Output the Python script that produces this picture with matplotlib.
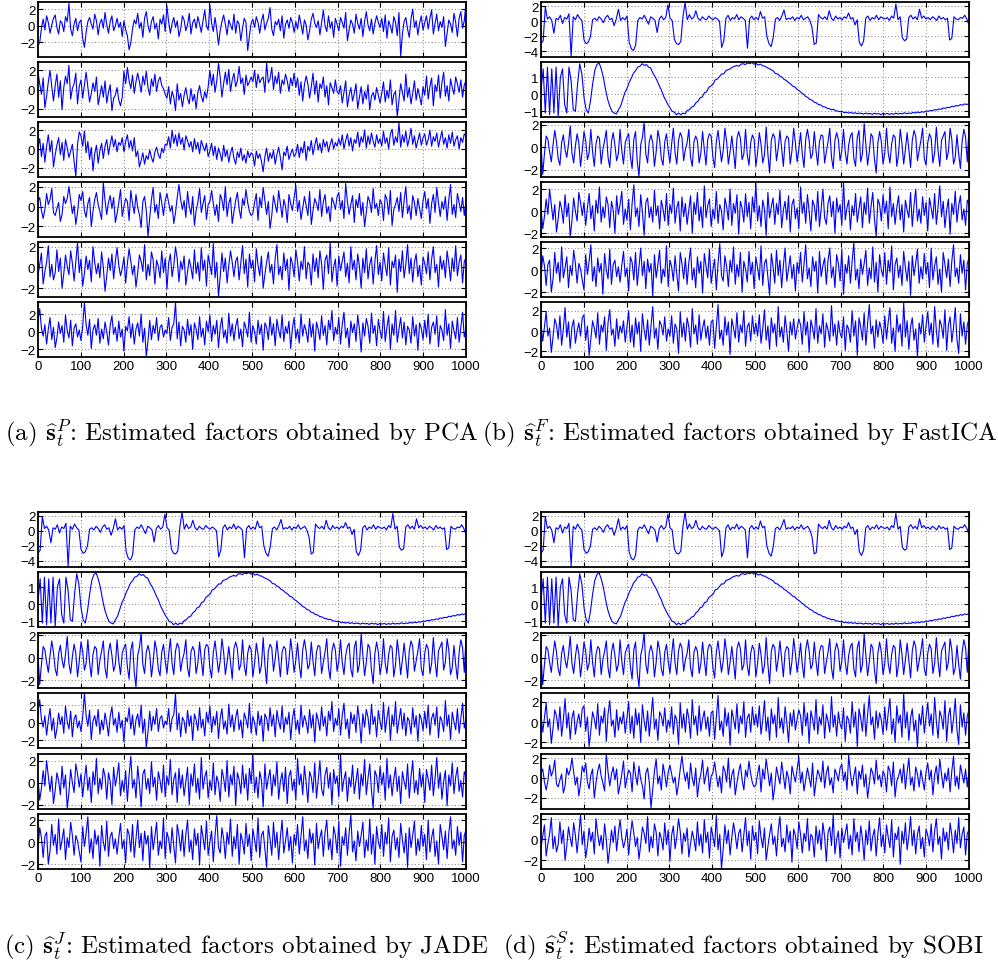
import matplotlib
matplotlib.use("Agg")
import matplotlib.pyplot as plt
import numpy as np
from matplotlib.ticker import MultipleLocator

# estimated factors (t = 0..1000, evenly spaced samples)
pca_1 = [-2.4, -2.0, -0.3, 0.8, -0.5, 1.2, 0.4, -0.9, 0.1, 0.9, 1.3, -0.2, -1.0, 0.6, 0.3, -0.7, 1.1, 0.5, 2.7, -0.4, -1.2, 0.2, 0.9, -0.6, 0.4,
         0.7, -1.5, -2.6, -0.8, 0.5, 1.0, 0.2, -0.4, 1.4, 0.6, -1.1, 0.3, 0.8, -0.3, 1.6, 0.1, -0.9, 0.5, 1.2, -0.6, 0.0, 0.9, -0.2, 0.4, -1.3,
         0.6, -0.5, -1.2, -2.9, -2.0, -0.4, 0.7, 0.2, 1.5, -0.3, 0.4, -1.4, 0.9, 1.7, 0.0, -0.8, 0.5, 1.1, -0.4, 0.3, -1.6, 0.8, 0.2, 1.3, -0.7,
         2.4, 0.5, -0.9, 0.3, 1.0, -0.2, 0.6, -1.3, -0.4, 1.2, 0.7, -0.6, 0.1, 1.5, -1.0, 0.4, 0.8, -0.3, 1.1, 0.2, -0.8, 0.6, 1.9, 0.0, -0.5,
         2.5, 0.3, -0.7, 1.0, -0.4, -2.3, -0.6, 0.5, 1.3, 0.2, -1.1, 0.7, 0.1, -0.5, 1.4, -0.9, 0.6, 0.2, -1.8, -0.3, 0.9, 0.4, -3.0, -1.2, 0.3,
         0.8, -0.2, 1.1, 0.4, -0.9, 0.6, 1.4, -0.5, 0.3, 0.9, 2.2, -0.4, -1.2, 0.5, 0.1, 0.8, -0.6, 1.2, -1.5, 0.2, 0.7, -0.3, 1.0, 0.4, -0.8,
         0.5, -0.4, 1.3, 0.2, -1.0, 0.7, 0.1, -1.7, -0.6, 0.8, 1.5, 0.3, -0.2, 0.6, -1.1, 0.4, 1.9, 0.0, -0.7, 1.2, -0.3, 0.5, -1.4, 0.9, 0.2,
         -0.6, 1.0, 0.4, -0.3, 1.6, -1.8, -0.5, 0.7, 0.2, -0.9, 1.4, 0.3, -0.4, 0.9, -1.3, 0.5, 1.7, 0.1, -0.6, 0.8, -1.0, 0.3, 1.2, 0.4, -0.2,
         0.9, -0.7, 1.3, -1.5, 0.6, 0.0, -0.9, 1.1, 0.4, -1.2, 1.6, -3.7, -1.0, 0.5, 1.0, -0.4, -1.4, 0.8, 2.0, -0.2, 0.6, -1.1, 0.3, 1.2, -0.5,
         0.4, 1.2, -0.4, 0.9, 1.9, -1.0, 0.3, 1.4, -0.6, 0.5, -0.2, 1.1, -2.5, -0.9, 0.7, 0.2, -0.8, 1.5, 0.4, -1.3, 0.9, 1.7, -0.3, 0.6, 2.8]
pca_2 = [1.8, 0.6, -0.5, 1.2, -1.9, -0.7, 0.8, 2.0, 0.3, -1.2, 0.4, 1.6, -0.8, 0.9, -2.1, 0.2, 1.4, 0.6, 2.5, -1.0, 0.1, 0.6, 1.7, -1.5, 0.3,
         1.0, -0.9, 0.5, 1.8, 0.2, -1.3, -0.4, 0.7, -0.2, 1.3, -1.6, -0.6, 0.4, -0.8, 0.9, -1.4, -0.3, 0.5, -2.2, -0.9, -0.6, 0.2, -1.1, -1.7, -0.8,
         1.9, 0.6, 2.3, 0.9, 0.1, 1.5, -0.4, 0.8, 1.7, 0.8, -0.3, 1.4, 0.5, 1.9, 0.2, -0.6, 1.1, 0.3, 1.6, -0.2, 0.9, 1.3, 0.4, 0.1, -0.5,
         -0.9, 0.3, -1.5, -0.2, -0.8, -2.2, 0.6, -1.1, -0.4, -1.8, -0.6, 0.2, -0.9, -1.5, 0.1, -1.2, -0.5, -2.0, -0.3, 0.4, -0.7, -1.3, -0.2, -0.9, 0.3,
         2.0, 0.4, 1.6, -0.3, 0.9, 2.7, 1.3, -0.8, 0.6, 1.8, 0.5, 2.1, -0.2, 1.0, 1.7, 0.3, 0.9, 2.4, 0.6, 1.2, -0.5, 1.5, 0.4, 0.8, 1.3,
         0.8, 2.0, 0.2, 1.6, 0.7, 1.1, 1.3, -0.3, 2.8, 0.7, 1.1, 2.3, 0.0, 1.4, 0.6, 1.8, -0.4, 1.0, 0.5, 1.6, 0.9, -0.2, 1.2, 0.4, 1.7,
         0.2, 1.2, -0.6, 0.8, -1.2, 0.5, 1.4, 0.6, -0.9, 0.3, 1.7, -0.5, 0.9, -1.3, 0.6, 0.1, 1.3, -0.8, 0.4, -1.6, 0.7, 0.2, -0.4, 1.0, -0.2,
         -0.5, 0.4, -1.4, -0.3, 0.9, -1.8, -0.6, 0.2, -1.2, -0.4, 0.6, -2.0, -0.8, 0.3, -1.5, -0.2, -1.0, 0.5, -2.1, -0.7, -0.3, -1.1, 0.2, -0.6, -1.4,
         -0.4, 0.8, -1.3, -0.1, -0.9, 1.0, -1.6, -0.5, -0.2, -2.8, -1.1, 0.6, -0.3, -1.2, 1.6, -0.8, 0.2, -1.5, -0.4, 0.9, -1.1, 0.1, -0.7, -1.6, 0.3,
         -0.6, 1.4, -1.0, 0.3, 1.2, -1.7, 0.5, -0.2, 1.5, -0.9, 0.7, 1.8, -0.7, 0.4, -1.2, 1.1, 0.2, -0.5, 1.3, 0.6, -0.3, 1.0, -0.8, 0.5, 0.9]
pca_3 = [0.2, 1.1, -0.8, 0.6, -1.4, 0.3, 1.5, -0.3, 0.9, -1.9, -0.6, 0.4, 1.2, -0.6, 0.7, -1.2, 1.0, 0.1, -0.9, -0.2, 0.5, -1.3, -2.9, 0.5, 1.8,
         1.4, 0.3, 1.9, -0.4, 0.8, -1.1, 0.2, -2.3, -0.5, 0.4, -1.5, -0.2, 0.6, -1.0, 0.3, 1.0, -0.6, 0.5, 1.4, 0.2, 1.0, -0.3, 0.7, 0.4, 1.2,
         -0.3, 0.8, 1.5, 0.1, 0.9, -0.2, 1.2, -0.8, -0.2, -1.9, -1.2, -0.4, -1.6, -0.7, -1.1, -0.1, -0.9, -1.4, -0.3, 0.2, -0.6, -1.0, 0.1, -0.4, 0.5,
         0.4, 1.3, 0.1, 2.0, 0.6, 1.5, 0.3, 1.7, 0.5, 1.2, -0.1, 1.4, 0.9, 0.2, 0.8, -0.3, 1.1, 0.0, 0.7, -0.5, 0.9, 0.3, -0.2, 0.6, -0.8,
         -0.2, 0.6, -0.7, 0.3, -1.1, 0.1, -0.5, -1.3, 0.4, -0.8, -0.1, -1.4, -0.4, 0.2, -1.0, -1.6, -0.3, -0.9, 0.1, -1.2, -0.6, -1.5, -0.2, -0.9, -0.4,
         -0.6, -1.8, -0.2, -1.0, -0.5, -1.3, -2.4, -0.8, 0.1, -1.3, -0.4, -1.0, -0.1, -1.6, -0.6, 0.2, -0.9, -2.2, -0.3, -0.7, 0.3, -1.1, -0.5, 0.0, -0.8,
         -0.5, 0.5, -0.9, 0.2, -0.4, 0.8, -1.2, 0.3, -0.2, 0.9, -0.6, 0.4, 1.2, -0.1, 0.6, -0.4, 1.0, 0.2, 0.8, -0.3, 0.5, 1.1, 0.0, 0.7, 0.3,
         1.1, 0.4, 1.5, 0.0, 0.9, 1.6, 0.3, 1.2, -0.2, 1.0, 0.6, 1.8, 0.2, 1.3, 0.7, 2.0, 0.1, 1.4, 0.5, 1.7, 0.8, 0.2, 1.5, 0.6, 1.1,
         0.3, 1.9, 0.6, 1.2, 0.0, 1.6, 2.1, 0.4, 1.3, 0.7, 2.8, 0.2, 1.5, 0.7, 1.9, 0.3, 1.1, 2.2, 0.5, 1.4, 0.1, 0.9, 1.7, 0.4, 1.2,
         1.6, 0.4, 1.0, 2.0, 0.3, 1.3, 0.8, 1.7, 0.2, 1.1, 1.9, 0.5, 1.2, 0.1, 1.5, 0.6, 1.8, 0.3, 1.0, 1.4, 0.0, 1.2, 0.7, 1.6, 1.4]
pca_4 = [0.5, 0.9, -0.4, -1.2, -0.3, 1.3, 0.2, 0.7, 1.8, -0.6, -0.9, -0.2, 0.4, -1.5, -0.8, 1.0, 0.3, 0.8, 2.0, 0.6, -0.7, 0.1, -1.8, -0.6, 1.2,
         0.6, 1.5, -0.4, -1.1, 0.3, 0.9, -2.0, -0.5, 0.7, 1.4, 0.2, -0.5, -1.3, 2.4, 0.6, -0.8, 0.4, 1.1, -0.2, 0.9, -1.6, -0.7, 0.4, 1.7, -1.0,
         0.0, 0.8, 0.5, -1.4, 1.6, 0.3, -0.7, 1.2, -0.1, -0.8, -2.1, 0.5, 1.0, -0.4, -3.0, -1.2, 0.7, 1.9, -0.6, 0.2, -1.2, 1.4, 0.4, -0.9, 0.6,
         1.3, 0.4, -0.5, 0.1, -1.7, -0.6, 0.9, 2.2, 0.7, -0.3, 0.6, -1.1, 1.5, 0.0, -0.8, 1.0, -1.9, -0.4, 0.4, 1.8, -0.6, 0.3, 1.1, -1.3, 0.2,
         0.5, 1.6, 0.3, -0.9, 0.2, -1.5, 1.2, 0.7, -0.4, 2.0, -1.0, 0.3, 0.9, -1.7, -0.5, 0.6, 1.4, -0.2, -1.2, 0.8, 0.1, 1.7, 0.4, -0.5, -0.9,
         -0.7, 0.4, 1.3, -1.4, 0.9, -0.1, 1.9, 0.6, -0.8, 0.5, -2.2, -0.9, 1.1, 0.2, -0.6, 1.6, 0.3, -1.1, 0.7, 0.0, -1.6, 1.2, 0.3, -0.4, 0.9,
         2.1, -0.5, 0.6, -1.3, -0.2, 1.0, 0.1, -0.9, 1.5, -1.8, -0.4, 0.8, 0.3, -0.4, 1.7, -1.0, 0.5, 1.2, -0.7, 0.0, -1.5, 0.9, 0.4, -0.3, 1.0,
         1.4, -0.3, 0.6, -1.2, 2.3, 0.5, -0.8, 0.2, 1.1, -1.6, 0.7, -0.1, 1.3, -0.9, 0.4, -2.0, -0.6, 1.0, 0.5, -0.6, 1.8, -0.2, 0.3, -0.9, 0.7,
         0.3, -1.4, 1.2, 0.7, -0.8, 1.6, -1.9, -0.3, 0.2, 0.9, -0.5, 1.4, -1.1, 0.6, 2.0, -0.7, 0.1, -1.3, 1.1, 0.4, -0.9, 0.8, -0.2, -1.2, 0.6,
         1.5, -0.2, 0.8, -1.7, 0.3, 1.2, -0.6, 1.9, 0.4, -1.0, 0.5, -0.3, 1.0, -1.4, 0.7, 2.2, -0.8, 0.2, -1.1, 1.3, 0.4, -0.5, 0.9, -0.9, 0.6]
pca_5 = [-0.8, 0.3, 1.4, -1.6, -0.4, 0.5, 2.1, -0.9, 0.3, -1.2, -0.5, 1.7, -0.4, 0.9, -2.0, -0.6, 1.2, 0.1, -0.7, 1.6, 0.4, -1.3, 0.6, 2.4, -0.5,
         0.8, -1.8, -0.6, 1.1, -0.2, 0.7, -1.4, 2.0, 0.5, -0.6, 0.4, -1.0, 1.5, 0.0, -2.3, -0.8, 0.9, -0.3, 1.3, -1.1, 0.6, 1.9, 0.2, -0.8, -0.1,
         1.0, -1.5, 0.4, 1.8, 0.6, -0.7, 0.2, -1.9, -0.5, 1.2, 0.6, -0.4, 2.2, -1.2, 0.3, -0.8, 1.5, 0.7, -1.6, 0.7, 0.1, -1.0, 1.6, -0.5, 0.9,
         -2.1, 0.4, 1.3, -0.9, 0.2, 2.0, 0.8, -1.4, 0.6, -0.2, 1.1, -1.7, -0.4, 0.8, 0.0, -1.1, 1.7, -0.6, 0.5, -1.3, 1.9, -0.3, 0.7, -1.8, 1.2,
         0.3, -0.7, 2.3, -1.0, 0.5, -2.8, -0.9, 1.4, -0.4, 0.9, -1.5, 0.2, 1.6, 0.5, -0.9, 0.6, 1.0, -1.2, 0.4, 2.1, -0.6, 0.8, -1.9, 1.3, -0.1,
         0.7, -1.4, 1.8, 0.2, -0.8, 1.1, -2.0, -0.7, 0.5, 1.5, -0.5, 0.3, -1.6, 0.9, 2.2, -0.7, 0.1, -1.2, 1.4, -0.3, 0.8, -2.2, 1.0, 0.4, -0.9,
         1.7, 0.5, -1.3, 0.6, -0.2, 2.0, -1.1, 0.5, 0.2, -1.7, 1.3, -0.4, 0.9, -1.0, 1.6, 0.3, -2.1, 0.7, 1.2, -0.6, 2.4, -1.4, 0.0, 0.8, -1.8,
         1.1, -0.3, 0.6, 1.5, -0.9, 0.4, -1.5, 2.0, -0.2, 0.7, -1.2, 1.3, 0.1, -2.0, 0.9, -0.5, 1.8, -1.1, 0.3, 1.0, -1.6, 0.6, 2.1, -0.7, 0.5,
         -1.3, 1.4, 0.2, -0.8, 1.9, -1.7, 0.6, 0.0, 1.2, -2.4, 0.8, -0.4, 1.6, -1.0, 0.3, 2.2, -0.6, 0.9, -1.4, 0.5, 1.3, -0.9, 0.2, -1.7, 1.0,
         0.4, -0.6, 1.5, -1.2, 0.8, 2.0, -0.5, 0.3, -1.9, 1.1, -0.2, 0.7, -1.0, 1.6, 0.4, -1.3, 0.9, -0.4, 2.1, -0.8, 0.5, 1.2, -1.5, 0.6, 0.9]
pca_6 = [1.2, 2.6, 0.4, -0.5, 0.8, -1.4, 0.3, 1.6, -0.9, 0.5, -1.8, -0.7, 1.1, -0.2, 0.7, -1.2, 1.9, 0.1, -0.7, 1.3, -1.6, 0.4, 0.9, -0.6, 0.2,
         -1.0, 0.6, 3.3, 0.8, -0.4, 1.4, -1.9, 0.2, 0.8, -0.4, 1.5, -1.3, 0.3, -0.8, 1.1, 0.0, -1.5, 0.7, 1.8, -0.3, 0.5, -1.1, 1.2, -0.6, 0.3,
         -2.2, 0.6, 0.1, 1.7, -0.7, 0.9, -1.4, 0.3, 1.0, -0.5, 2.0, -1.2, 0.4, -2.8, -1.0, 1.3, -0.9, 0.7, -0.2, 1.6, -1.0, 0.5, 0.8, -0.6, 0.2,
         -0.2, 1.6, -1.0, 0.5, 0.9, 3.3, -0.8, 1.1, -1.6, 0.6, 0.2, -1.2, 1.4, -0.4, 0.8, -2.0, 1.0, 0.3, -0.9, 1.7, -0.6, 0.4, -1.5, 1.2, 0.0,
         1.9, -1.1, 0.7, -0.3, 1.3, -1.8, 0.5, 1.6, -0.7, 0.2, -1.3, 2.1, -0.5, 0.9, -1.0, 0.6, 1.5, -0.8, 0.3, -1.7, 1.1, 0.4, -0.6, 2.2, -1.2,
         0.7, 0.0, -1.4, 1.3, -0.3, 0.8, -2.1, 1.0, 0.5, -0.9, 1.7, -0.4, 0.9, -1.6, 1.4, 0.2, -0.7, 1.9, -1.1, 0.6, -0.2, 1.2, -1.9, 0.4, 1.6,
         -0.8, 0.3, -1.3, 2.0, -0.5, 0.8, 0.1, -1.2, 1.5, -0.6, 0.9, -2.2, 1.1, 0.3, -0.9, 1.8, -0.4, 0.7, -1.5, 1.3, 0.2, 2.4, -1.0, 0.5, -0.3,
         1.6, -1.4, 0.8, 2.2, -0.7, 0.4, -1.8, 1.2, -0.1, 0.9, -1.1, 1.9, 0.3, -2.3, 1.0, -0.5, 1.5, 0.6, -1.3, 2.1, -0.2, 0.7, -1.6, 1.4, 0.1,
         -0.8, 2.3, -1.1, 0.5, 1.8, -2.0, 0.9, -0.4, 2.4, -1.2, 0.3, 1.6, -0.7, 1.1, -1.5, 0.6, 0.2, -1.3, 1.7, -0.5, 0.8, -2.1, 1.0, 0.4, -0.9,
         1.3, -0.6, 2.0, -1.4, 0.5, 1.1, -0.3, 1.8, -1.7, 0.7, 0.2, -1.0, 2.5, -0.4, 0.9, -1.9, 1.2, 0.1, -0.8, 1.6, -1.2, 0.5, 2.2, -0.6, 0.3]

spikes = [-3.0, -2.6, 1.9, 0.3, 0.6, 0.1, -1.6, 0.4, 0.2, 0.8, -0.3, 0.5, 0.3, 1.0, -4.7, 0.6, 0.2, 0.9, 0.4, 0.1,
          -2.5, -3.0, -2.8, -2.0, 0.2, 0.4, 0.1, 0.6, 0.3, -0.2, 0.5, 0.8, 0.2, 0.4, -0.6, 0.3, 1.6, 0.1, 0.5, 0.2,
          0.7, -2.8, -3.7, -3.9, -3.2, 0.1, 0.5, 0.3, 0.8, 0.2, -0.4, 0.6, 0.4, 0.1, -1.5, 0.3, 0.7, 0.2, 0.5, 2.2,
          0.4, 0.1, -2.4, -3.0, -3.1, -2.7, 0.6, 2.5, 0.2, 0.9, 0.3, 0.5, 1.4, 0.4, 0.1, 0.6, 0.3, 0.2, 0.7, 0.4,
          0.2, 0.5, 0.3, 0.0, -3.5, -2.6, 0.4, 0.8, 0.1, 0.5, 0.3, 0.9, 0.2, 0.6, 0.4, 0.1, -3.6, 0.3, 0.7, 0.2,
          0.5, 0.2, 1.3, 0.4, 0.6, -2.0, -3.0, -3.4, -2.1, 0.3, 0.5, 0.1, 0.7, 1.5, 0.2, 0.4, 0.3, 0.6, 0.1, 0.5,
          0.3, 0.8, 0.2, 0.4, 0.6, 0.1, -0.8, -3.1, -2.9, 0.9, 0.5, 0.3, 0.6, 0.2, 1.4, 0.4, 0.1, 0.7, 0.3, 0.5,
          0.2, 0.6, 0.4, 1.1, 0.3, 0.5, -0.5, 0.2, -2.8, -3.3, -2.6, 0.4, 0.7, 0.1, 0.5, 0.3, 0.8, 0.2, 0.6, 0.4,
          0.3, 0.5, 0.1, 0.7, 0.4, 2.3, 0.2, 0.6, -2.2, -2.6, -2.4, 0.5, 0.8, 0.3, 0.6, 0.2, 1.6, 0.4, 0.7, 0.3,
          0.5, 0.2, 0.6, 0.4, 0.1, 0.7, 0.3, 0.5, 0.2, 0.4, -2.5, -2.3, 0.6, 0.3, 0.2, 0.5, 0.4, 0.8, 0.3, -0.5]
chirp = [0.2, 1.5, -1.1, 1.6, -1.2, 1.5, -1.1, 1.6, -1.3, 1.0, 1.5, -0.6, -1.1, 1.6, 0.8, -0.9, -1.0, 0.6, 1.8, 1.2,
         -0.2, -0.9, -1.1, -0.4, 0.6, 1.4, 1.75, 1.85, 1.5, 1.0, 0.3, -0.3, -0.7, -1.0, -1.1, -1.15, -0.9, -0.7, -0.3, 0.1,
         0.35, 0.7, 0.95, 1.25, 1.4, 1.6, 1.65, 1.8, 1.7, 1.75, 1.6, 1.55, 1.25, 1.05, 0.8, 0.5, 0.25, -0.1, -0.35, -0.6,
         -0.8, -1.0, -1.05, -1.2, -1.1, -1.2, -1.1, -1.15, -0.95, -0.9, -0.75, -0.7, -0.5, -0.4, -0.2, -0.15, 0.1, 0.15, 0.4, 0.5,
         0.6, 0.85, 0.9, 1.05, 1.2, 1.2, 1.4, 1.45, 1.5, 1.6, 1.65, 1.7, 1.65, 1.78, 1.8, 1.75, 1.85, 1.8, 1.87, 1.78,
         1.82, 1.72, 1.78, 1.68, 1.66, 1.58, 1.52, 1.45, 1.38, 1.22, 1.2, 1.08, 1.02, 0.88, 0.82, 0.7, 0.62, 0.48, 0.44, 0.3,
         0.22, 0.1, 0.02, -0.12, -0.18, -0.3, -0.34, -0.46, -0.5, -0.6, -0.62, -0.72, -0.74, -0.82, -0.84, -0.9, -0.88, -0.97, -0.98, -1.02,
         -1.0, -1.08, -1.05, -1.1, -1.06, -1.12, -1.08, -1.14, -1.1, -1.12, -1.16, -1.1, -1.15, -1.12, -1.18, -1.11, -1.15, -1.13, -1.19, -1.12,
         -1.16, -1.12, -1.18, -1.13, -1.17, -1.1, -1.16, -1.12, -1.15, -1.08, -1.14, -1.1, -1.12, -1.06, -1.1, -1.04, -1.08, -1.02, -1.05, -0.98,
         -1.0, -0.95, -0.96, -0.9, -0.92, -0.86, -0.88, -0.8, -0.82, -0.76, -0.78, -0.7, -0.72, -0.66, -0.68, -0.6, -0.64, -0.56, -0.6, -0.54]
oscill = [0.3, -2.4, -0.6, 1.0, 0.7, -0.4, -1.3, 0.2, 1.5, 0.5, -1.0, -1.6, 0.4, 1.1, -0.2, -0.9, 0.3, 1.9, -0.5, -1.4, 0.1, 1.2, 0.4, -1.7, -0.3,
          1.4, 0.6, -1.1, -0.5, 1.6, -0.4, -1.7, 0.3, 1.0, 0.8, -1.5, -0.2, 0.6, 1.5, -0.9, -1.8, 0.5, 1.3, 0.2, -1.2, -0.6, 1.6, -0.3, -1.5, 0.4,
          0.9, 1.2, -0.8, -1.9, 0.7, 1.4, -1.3, -2.6, 0.2, 0.9, 2.2, -0.6, -1.4, 0.5, 1.1, 0.4, -1.7, -0.4, 1.5, 0.7, -1.0, -1.6, 0.5, 1.2, -0.3,
          -1.4, 0.3, 1.7, -0.5, -1.5, 0.6, 1.3, 0.9, -1.2, -0.2, 0.4, 1.6, -0.9, -1.7, 0.5, 1.0, 0.6, -1.4, -0.5, 1.4, -0.2, -1.6, 0.7, 1.2, 1.0,
          -0.9, -1.8, 0.5, 1.5, 0.1, -1.3, -0.3, 1.7, 0.5, -1.5, -0.4, 1.0, -0.4, -1.9, 0.8, 1.4, 0.8, -1.1, -0.6, 1.6, -0.7, -1.6, 0.4, 1.1, 0.7,
          -1.7, -0.5, 1.3, 0.3, -1.4, -0.7, 1.8, -0.6, -2.3, 0.6, 1.2, 0.9, -1.2, -0.1, 1.5, -0.1, -1.7, 0.5, 1.0, 0.8, -1.5, -0.3, 1.7, 0.4, -1.3,
          -0.2, 1.3, -0.6, -1.8, 0.7, 1.6, 0.6, -1.0, -0.6, 1.4, -0.3, -1.6, 0.5, 1.1, 1.0, -1.4, -0.4, 0.5, 1.7, -0.9, -1.9, 0.6, 1.3, 0.7, -1.2,
          -0.3, 1.6, -0.4, -1.5, 0.2, 1.0, 1.3, -1.0, -1.7, 0.9, 1.5, -1.3, -0.6, 2.1, 0.2, -1.6, -0.4, 1.2, 0.9, -1.1, -2.3, 0.4, 1.4, 0.5, -1.5,
          -0.5, 1.7, -0.5, -1.4, 0.3, 1.1, 0.9, -1.7, -0.6, 1.6, 0.3, -1.5, -0.2, 1.3, -0.2, -1.8, 0.6, 1.5, 1.0, -1.2, -0.3, 0.6, 1.7, -1.0, -1.6,
          0.4, 1.2, 0.8, -1.4, -0.5, 1.8, -0.3, -1.7, 0.6, 1.0, 1.4, -1.1, -0.4, 1.7, 0.7, -1.5, -0.9, 1.1, -0.6, -1.9, 0.5, 1.6, 0.9, -1.3, 1.8]
noise_1 = [0.4, -1.6, -0.5, 1.1, -0.3, 2.0, 0.6, -0.8, 0.6, -1.9, -0.7, 0.9, 0.2, -1.1, 1.5, -0.5, 0.7, -2.3, -0.9, 1.2, 0.0, -0.9, 1.7, 0.8, -0.4,
           0.8, -1.3, 0.3, 1.6, -0.7, 0.5, -1.8, 1.0, -0.2, 2.2, -1.0, 0.4, -0.6, 1.3, 0.6, -1.5, 0.9, 0.1, -2.0, 1.4, -0.3, 0.6, 1.8, -1.2, 0.2,
           -0.8, 1.1, -1.7, 0.7, 2.4, -0.5, 0.3, -1.4, 1.5, -0.1, -2.2, 0.8, 1.2, -0.6, 0.4, -1.0, 1.9, -0.4, 0.5, -1.6, 1.0, 0.2, -0.9, 1.6, -1.3,
           0.6, -0.2, 2.1, -1.1, 0.3, 0.9, -1.8, 1.3, -0.5, 0.7, -1.2, 0.1, 1.4, -2.0, 0.8, -0.3, 1.7, -0.9, 0.4, -1.5, 2.3, -0.6, 0.5, 1.1, -1.4,
           0.2, -0.7, 1.8, -1.1, 0.6, 0.0, -1.7, 1.2, 0.4, -0.8, 2.0, -1.3, 0.7, -0.2, 1.5, -2.1, 0.9, 0.3, -1.0, 1.6, -0.5, 0.8, -1.6, 1.3, -0.1,
           2.5, -0.9, 0.5, -1.4, 1.0, 0.2, -2.2, 1.7, -0.6, 0.4, 1.2, -1.2, 0.7, -0.3, 1.9, -1.5, 0.1, 0.9, -0.8, 1.4, -1.9, 0.6, 1.1, -0.7, 0.3,
           -1.6, 2.2, -0.2, 0.8, -1.1, 1.5, 0.0, -1.8, 1.0, 0.5, -0.9, 1.8, -1.4, 0.2, 2.0, -0.6, -1.2, 0.7, 1.4, -0.5, 0.9, -2.0, 1.2, -0.1, 0.6,
           -1.3, 2.6, -0.8, 0.3, 1.0, -1.7, 0.5, -0.4, 1.6, -1.0, 0.2, 1.3, -1.5, 0.8, -0.3, 2.1, -1.1, 0.4, 1.7, -0.7, -2.3, 1.1, 0.6, -0.9, 1.5,
           -0.2, 0.9, -1.6, 2.2, -0.5, 0.7, -1.2, 0.3, 1.4, -0.8, 0.6, -1.9, 1.0, 0.1, -0.6, 1.7, -1.4, 0.5, 2.0, -0.9, 0.2, -1.1, 1.3, -0.4, 0.8,
           -1.8, 1.2, 0.3, -0.7, 1.6, -1.2, 0.4, 2.3, -0.5, 0.9, -1.5, 0.1, 1.1, -2.1, 0.7, -0.3, 1.8, -1.0, 0.5, 1.4, -0.8, 0.2, -1.3, 1.0, 0.6]
noise_2 = [-0.6, 1.3, 0.4, -1.4, 0.5, 0.9, -2.0, -0.8, 1.6, -0.3, 0.7, -1.1, 2.1, -0.7, 0.2, 1.2, -1.6, 0.4, -0.5, 1.8, 0.6, -1.2, 0.6, 0.1, -0.9,
           -1.8, 1.4, -0.4, 0.8, 2.3, -1.0, 0.3, -1.5, 1.1, -0.2, 0.6, -2.2, 1.5, 0.0, -0.8, 1.9, -1.3, 0.5, 0.9, -0.6, 0.3, -1.1, 0.4, 1.7, -0.6,
           0.2, -1.9, 1.2, 0.7, -0.9, 1.6, -1.4, 0.3, 2.0, -0.5, 0.8, -1.7, 1.0, -0.2, 0.6, -2.4, 1.4, -0.7, 0.5, 1.8, -1.2, 0.1, -0.6, 2.2, -1.5,
           0.9, 0.3, -1.0, 1.3, -0.4, -1.9, 1.6, 0.6, -0.8, 1.1, -1.3, 0.7, 2.0, -0.9, 0.2, -1.6, 1.2, -0.3, 0.8, -2.1, 1.5, 0.4, -0.7, 1.9, -1.2,
           0.0, 1.0, -1.8, 0.6, 2.4, -0.5, -1.0, 1.3, 0.3, -1.5, 0.9, -0.2, 2.1, -1.3, 0.5, -0.6, 1.6, -2.0, 0.8, 0.1, -1.1, 1.7, -0.4, 0.7, -1.7,
           1.2, 0.2, -0.9, 2.2, -1.4, 0.6, 1.0, -0.7, -2.3, 1.5, 0.3, -1.2, 1.8, -0.5, 0.9, -1.6, 0.4, 2.0, -1.0, 0.1, 1.3, -0.8, 0.5, -1.9, 0.7,
           -0.3, 1.6, -1.1, 0.5, 2.3, -0.8, 0.2, -1.5, 1.2, -0.1, 0.8, -2.1, 1.7, -0.6, 0.4, 1.1, -1.3, 0.9, 2.0, -0.7, 0.3, -1.6, 1.4, 0.6, -1.0,
           1.9, -2.2, 0.5, -0.3, 1.3, -1.2, 0.8, 2.5, -0.9, 0.1, -1.7, 1.0, -0.4, 0.6, 1.8, -1.4, 0.2, -0.8, 2.1, -1.1, 0.7, -2.0, 1.4, 0.0, -0.6,
           1.6, -1.3, 0.9, -0.2, 2.2, -1.8, 0.5, 1.1, -0.7, 0.4, -1.4, 1.7, 0.2, -1.0, 0.8, -2.3, 1.3, -0.5, 0.6, 1.9, -1.2, 0.3, -0.8, 1.5, -0.4,
           0.7, -1.6, 2.0, -0.9, 0.4, 1.2, -1.3, 0.1, -2.0, 1.6, 0.5, -0.7, 1.0, -1.5, 0.8, 2.3, -0.6, 0.2, -1.2, 1.4, -0.3, 0.9, -1.8, 0.6, 1.1]
noise_3 = [0.7, -1.0, 0.4, 1.9, -0.5, 0.3, -2.1, -0.6, 1.2, 0.6, -0.8, 1.5, -1.4, 0.2, 2.3, -0.6, 0.9, -1.7, 0.4, 1.1, -1.2, 0.0, 0.8, -0.5, 1.3,
           1.6, -0.9, 0.5, -2.4, -0.8, 1.0, 0.3, -0.7, 1.8, -1.3, 0.6, -0.1, 1.4, -1.9, 0.8, 2.1, -0.4, 0.2, -1.5, 1.2, -0.8, 0.5, -0.2, 1.0, -1.1,
           0.4, 2.0, -1.1, 0.6, -1.6, 1.3, -0.3, 0.9, -2.0, 1.7, 0.1, -0.9, 1.1, -1.4, 0.5, 2.4, -0.7, 0.3, -1.8, 1.0, 0.6, -0.4, 1.4, -1.0, 0.2,
           -0.5, 1.5, -1.2, 0.7, 0.2, -2.2, 1.9, -0.6, 0.8, -1.0, 1.3, 0.4, -1.6, 2.2, -0.3, 0.6, -1.3, 1.6, -0.9, 0.3, 1.1, -0.7, 0.5, -1.4, 0.9,
           1.1, -1.7, 0.5, 2.6, -0.8, 0.1, -1.4, 1.4, -0.4, 0.9, -2.3, 1.2, 0.3, -0.7, 1.8, -1.1, 0.6, -0.2, 2.0, -1.5, 0.4, 0.8, -1.0, 1.5, -0.3,
           0.8, -0.5, 1.6, -1.2, 0.2, 2.1, -0.9, 0.5, -1.8, 1.3, -0.2, 0.7, -1.5, 2.4, -0.6, 0.4, -1.1, 1.5, 0.0, -2.0, 0.9, -0.4, 1.2, -0.8, 0.3,
           1.2, 0.6, -1.3, 1.9, -0.4, 0.9, -2.1, 1.1, 0.3, -0.8, 2.2, -1.2, 0.5, -0.3, 1.7, -1.6, 0.8, 0.1, -1.0, 2.5, -0.5, 0.7, -1.4, 1.0, -0.2,
           -0.7, 1.4, -1.9, 0.6, 0.2, -1.1, 2.0, -0.5, 1.0, -2.4, 1.3, 0.4, -0.9, 1.8, -1.4, 0.7, 2.6, -0.3, 0.5, -1.7, 1.1, -0.6, 0.9, 0.2, -1.2,
           1.5, -0.8, 0.9, 2.3, -1.2, 0.3, -2.0, 1.6, -0.1, 0.7, -1.5, 2.8, -0.6, 1.0, -1.8, 0.4, 1.3, -0.9, 0.2, -2.5, 0.8, -0.3, 1.6, -1.1, 0.5,
           1.9, -0.4, 0.8, -1.3, 2.4, 0.1, -1.6, 1.1, 0.5, -0.7, 2.1, -1.9, 0.6, 1.4, -1.1, 0.3, 2.3, -0.8, -2.2, 1.7, -0.5, 0.9, -1.3, 0.6, 1.2]

panels = [
    ("a", "P", "PCA", [pca_1, pca_2, pca_3, pca_4, pca_5, pca_6]),
    ("b", "F", "FastICA", [spikes, chirp, oscill, noise_1, noise_2, noise_3]),
    ("c", "J", "JADE", [spikes, chirp, oscill, pca_6, noise_1, noise_2]),
    ("d", "S", "SOBI", [spikes, chirp, oscill, noise_3, pca_4, pca_5]),
]


def main() -> None:
    plt.rcParams["font.family"] = ["Liberation Sans", "DejaVu Sans"]
    plt.rcParams["mathtext.fontset"] = "cm"
    W, H = 998, 962
    fig = plt.figure(figsize=(W / 100, H / 100), dpi=100)

    col_left = [38, 541]
    col_width = 428
    group_top = [3, 512.5]
    row_step = [60, 60.5]
    row_h = 55
    caption_y = [433, 946]
    caption_x = [[242, 740], [246, 743]]

    for p, (tag, sup, name, rows) in enumerate(panels):
        gi, ci = divmod(p, 2)
        for r, vals in enumerate(rows):
            top = group_top[gi] + r * row_step[gi]
            ax = fig.add_axes([col_left[ci] / W, 1 - (top + row_h) / H, col_width / W, row_h / H])
            y = np.asarray(vals)
            t = np.linspace(0, 1000, len(y))
            ax.plot(t, y, color="#0000ff", lw=0.8)
            ax.set_xlim(0, 1000)
            span = y.max() - y.min()
            ax.set_ylim(y.min() - 0.01 * span, y.max() + 0.01 * span)
            ax.xaxis.set_major_locator(MultipleLocator(100))
            ax.yaxis.set_major_locator(MultipleLocator(1 if span < 3.5 else 2))
            ax.grid(True, color="#555555", linestyle=(0, (1, 3)), linewidth=0.6)
            ax.tick_params(direction="in", top=True, right=True, length=3.5, width=0.8,
                           labelsize=9.5, pad=2)
            for s in ax.spines.values():
                s.set_linewidth(1.3)
            if r < len(rows) - 1:
                ax.set_xticklabels([])
        fig.text(caption_x[gi][ci] / W, 1 - caption_y[gi] / H,
                 rf"({tag}) $\widehat{{\mathbf{{s}}}}_t^{{{sup}}}$: Estimated factors obtained by {name}",
                 ha="center", va="center", fontsize=18, family="cmr10")

    fig.savefig("out.png", dpi=100)


if __name__ == "__main__":
    main()
